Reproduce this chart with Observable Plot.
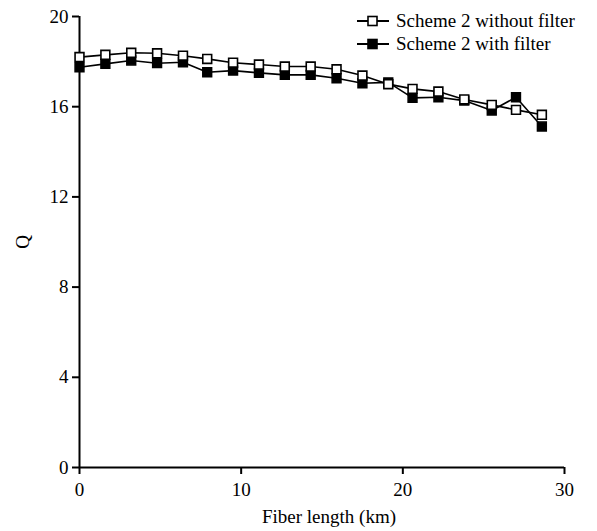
<!DOCTYPE html>
<html>
<head>
<meta charset="utf-8">
<script src="https://cdn.jsdelivr.net/npm/d3@7"></script>
<script src="https://cdn.jsdelivr.net/npm/@observablehq/plot@0.6"></script>
<style>
  html, body { margin: 0; padding: 0; background: #fff; }
  #wrap { position: relative; width: 597px; height: 531px; font-family: "Liberation Serif", "Times New Roman", serif; }
  #legend { position: absolute; left: 356px; top: 9px; font-size: 19px; line-height: 23px; color: #000; }
  #legend .row { display: flex; align-items: center; white-space: nowrap; }
  #legend svg { margin-right: 6px; }
</style>
</head>
<body>
<div id="wrap">
  <div id="chart"></div>
  <div id="legend"></div>
</div>
<script>
const fiberLength = [0, 1.6, 3.2, 4.8, 6.4, 7.9, 9.5, 11.1, 12.7, 14.3, 15.9, 17.5, 19.1, 20.6, 22.2, 23.8, 25.5, 27.0, 28.6];
const withoutFilter = [18.2, 18.3, 18.39, 18.37, 18.26, 18.12, 17.95, 17.87, 17.78, 17.78, 17.66, 17.38, 17.0, 16.79, 16.67, 16.32, 16.08, 15.86, 15.64];
const withFilter = [17.75, 17.9, 18.05, 17.93, 17.97, 17.53, 17.6, 17.5, 17.41, 17.41, 17.26, 17.04, 17.08, 16.39, 16.42, 16.27, 15.83, 16.42, 15.12];
const seriesNames = ["Scheme 2 without filter", "Scheme 2 with filter"];
const xTicks = [0, 10, 20, 30];
const yTicks = [0, 4, 8, 12, 16, 20];
const xLabel = "Fiber length (km)";
const yLabel = "Q";

const rows = [];
fiberLength.forEach((x, i) => {
  rows.push({x, q: withoutFilter[i], s: seriesNames[0]});
  rows.push({x, q: withFilter[i], s: seriesNames[1]});
});
const open = rows.filter(d => d.s === seriesNames[0]);
const filled = rows.filter(d => d.s === seriesNames[1]);

const chart = Plot.plot({
  width: 597,
  height: 531,
  marginLeft: 79,
  marginRight: 33,
  marginTop: 16,
  marginBottom: 64,
  style: {fontFamily: "'Liberation Serif', 'Times New Roman', serif", fontSize: "19px", color: "#000", background: "#fff"},
  x: {domain: [0, 30]},
  y: {domain: [0, 20]},
  marks: [
    Plot.axisX({ticks: xTicks, tickSize: 7, tickPadding: 8, strokeWidth: 2, label: null, fontSize: 19}),
    Plot.axisY({ticks: yTicks, tickSize: 7, tickPadding: 4, strokeWidth: 2, label: yLabel, labelAnchor: "center", labelArrow: "none", labelOffset: 64, fontSize: 19}),
    Plot.text([xLabel], {frameAnchor: "bottom", dy: 55, dx: 7, fontSize: 19, fill: "#000"}),
    Plot.ruleY([0], {stroke: "#000", strokeWidth: 2}),
    Plot.ruleX([0], {stroke: "#000", strokeWidth: 2}),
    Plot.line(filled, {x: "x", y: "q", stroke: "#000", strokeWidth: 1.6}),
    Plot.line(open, {x: "x", y: "q", stroke: "#000", strokeWidth: 1.6}),
    Plot.dot(filled, {x: "x", y: "q", symbol: "square", r: 5, fill: "#000", stroke: "#000", strokeWidth: 1.5}),
    Plot.dot(open, {x: "x", y: "q", symbol: "square", r: 5, fill: "#fff", stroke: "#000", strokeWidth: 1.6})
  ]
});
document.getElementById("chart").appendChild(chart);

const legend = document.getElementById("legend");
seriesNames.forEach((name, i) => {
  const row = document.createElement("div");
  row.className = "row";
  row.innerHTML = `<svg width="34" height="14"><line x1="1" y1="7" x2="33" y2="7" stroke="#000" stroke-width="2"/><rect x="12" y="2.5" width="9" height="9" fill="${i === 0 ? "#fff" : "#000"}" stroke="#000" stroke-width="1.6"/></svg><span>${name}</span>`;
  legend.appendChild(row);
});
</script>
</body>
</html>
